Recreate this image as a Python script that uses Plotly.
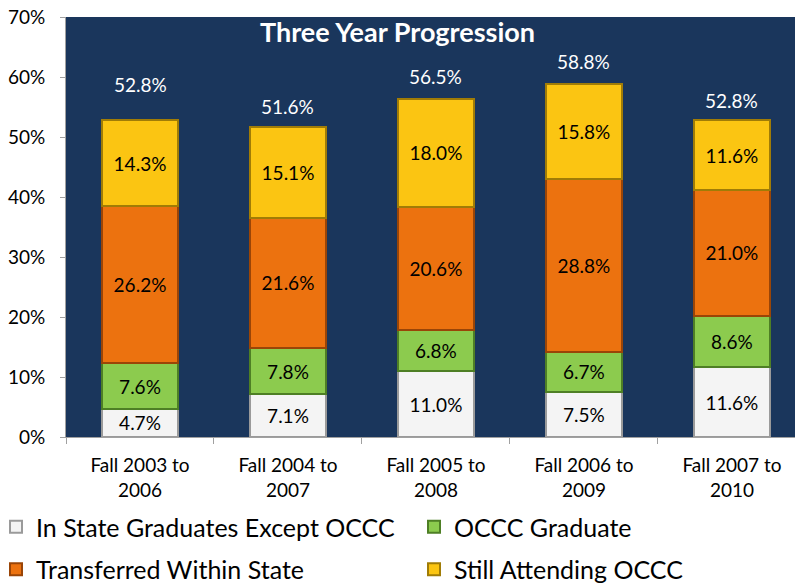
import plotly.graph_objects as go

categories = ["Fall 2003 to<br>2006", "Fall 2004 to<br>2007", "Fall 2005 to<br>2008",
              "Fall 2006 to<br>2009", "Fall 2007 to<br>2010"]
in_state_grad = [4.7, 7.1, 11.0, 7.5, 11.6]
occc_grad = [7.6, 7.8, 6.8, 6.7, 8.6]
transferred = [26.2, 21.6, 20.6, 28.8, 21.0]
still_attending = [14.3, 15.1, 18.0, 15.8, 11.6]
totals = [52.8, 51.6, 56.5, 58.8, 52.8]
y_ticks = [0, 10, 20, 30, 40, 50, 60, 70]

# name, values, fill, edge, legend id
series = [
    ("In State Graduates Except OCCC", in_state_grad, "#F4F4F4", "#9A9A9A", "legend"),
    ("OCCC Graduate", occc_grad, "#8CCB4E", "#4E7F25", "legend2"),
    ("Transferred Within State", transferred, "#EC720F", "#9A4507", "legend"),
    ("Still Attending OCCC", still_attending, "#FBC512", "#A07C06", "legend2"),
]

FONT = "Lato, Carlito, 'Open Sans', sans-serif"

fig = go.Figure()
for i, (name, vals, color, edge, leg) in enumerate(series):
    fig.add_trace(go.Bar(
        name=name, x=categories, y=vals,
        marker=dict(color=color, line=dict(color=edge, width=2)),
        width=0.51,
        text=[f"{v:.1f}%" for v in vals],
        textposition="inside", insidetextanchor="middle",
        textfont=dict(color="black", size=19, family=FONT),
        constraintext="none",
        legend=leg, legendgroup=f"g{i}",
        hoverinfo="skip",
    ))

total_gap = [36, 21, 22, 23, 20]
for c, t, s in zip(categories, totals, total_gap):
    fig.add_annotation(x=c, y=t, text=f"{t:.1f}%", showarrow=False,
                       yanchor="middle", yshift=s,
                       font=dict(color="white", size=19, family=FONT))

legend_common = dict(orientation="v", xref="paper", xanchor="left",
                     yref="container", yanchor="top", traceorder="grouped",
                     font=dict(size=25, family=FONT), itemsizing="constant",
                     tracegroupgap=7, bgcolor="rgba(0,0,0,0)")

fig.update_layout(
    width=795, height=586,
    barmode="stack",
    plot_bgcolor="#1A365C",
    paper_bgcolor="white",
    margin=dict(l=66, r=0, t=17, b=149, autoexpand=False),
    font=dict(family=FONT, color="black"),
    title=dict(text="<b>Three Year Progression</b>", x=0.5, xref="container",
               y=1 - 33 / 586, yref="container", xanchor="center", yanchor="middle",
               font=dict(color="white", size=27, family=FONT)),
    uniformtext=dict(minsize=19, mode="show"),
    legend=dict(x=(-4 - 66) / 729, y=1 - 504 / 586, **legend_common),
    legend2=dict(x=(414 - 66) / 729, y=1 - 504 / 586, **legend_common),
    showlegend=True,
)
fig.update_yaxes(range=[0, 70], tickvals=y_ticks, ticktext=[f"{v}%" for v in y_ticks],
                 showgrid=False, zeroline=False, showline=True, linecolor="#A0A0A0",
                 linewidth=1, ticks="outside", ticklen=5, tickcolor="#A0A0A0",
                 tickfont=dict(size=19, family=FONT), ticklabelstandoff=11)
fig.update_xaxes(range=[-0.5, 4.426], showline=True, linecolor="#A0A0A0", linewidth=1,
                 ticks="outside", tickson="boundaries", ticklen=6, tickcolor="#A0A0A0",
                 tickfont=dict(size=19, family=FONT), ticklabelstandoff=11, showgrid=False)

fig.write_html("out.html", config={"displayModeBar": False},
               post_script="document.body.style.margin='0';")
